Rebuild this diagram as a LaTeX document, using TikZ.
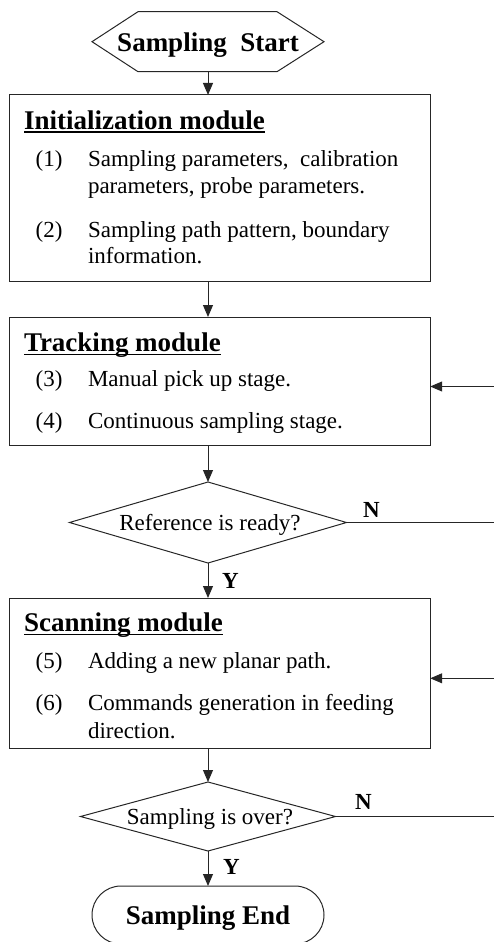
\documentclass[tikz,border=0pt]{standalone}
\usepackage{fontspec}
\setmainfont{Liberation Serif}
\usetikzlibrary{arrows.meta,shapes.geometric,calc}
\definecolor{ln}{HTML}{262626}
\begin{document}
\begin{tikzpicture}[x=1pt,y=-1pt,
  every node/.style={inner sep=0pt,outer sep=0pt},
  box/.style={draw=ln,line width=1pt,rectangle,minimum width=421pt},
  ttl/.style={anchor=base west,font=\fontsize{27}{32}\selectfont\bfseries},
  num/.style={anchor=base west,font=\fontsize{23}{27}\selectfont},
  txt/.style={anchor=base west,font=\fontsize{23}{27}\selectfont},
  lbl/.style={anchor=base west,font=\fontsize{23}{27}\selectfont\bfseries},
  dec/.style={draw=ln,line width=1pt,diamond},
  conn/.style={draw=ln,line width=1pt},
  arr/.style={conn,-{Triangle[length=12pt,width=10pt]}},
  uline/.style={draw=black,line width=1.2pt}]
\useasboundingbox (0,0) rectangle (494,942);

% start hexagon
\node[minimum width=232pt,minimum height=60pt] (start) at (208,41.7) {};
\draw[conn] (start.west) -- ($(start.north west)+(46,0)$) -- ($(start.north east)+(-47,0)$)
  -- (start.east) -- ($(start.south east)+(-47,0)$) -- ($(start.south west)+(46,0)$) -- cycle;
\node[anchor=base,font=\fontsize{27}{32}\selectfont\bfseries] (starttxt) at (208,51.7) {Sampling\ \ Start};

% initialization box
\node[box,minimum height=186.7pt] (init) at (219.7,188.3) {};
\node[ttl] (t1) at (24,129) {Initialization module};
\draw[uline] ([yshift=-3pt]t1.base west) -- ([yshift=-3pt]t1.base east);
\node[num] (n1) at (35.7,166) {(1)};
\node[txt] (a1) at (88,166) {Sampling parameters,\ \ calibration};
\node[txt] (a2) at (88,193) {parameters, probe parameters.};
\node[num] (n2) at (35.7,237) {(2)};
\node[txt] (b1) at (88,237) {Sampling path pattern, boundary};
\node[txt] (b2) at (88,263.5) {information.};

% tracking box
\node[box,minimum height=128pt] (track) at (219.7,381) {};
\node[ttl] (t2) at (24,351.7) {Tracking module};
\draw[uline] ([yshift=-3pt]t2.base west) -- ([yshift=-3pt]t2.base east);
\node[num] (n3) at (35.7,386.7) {(3)};
\node[txt] (c1) at (88,386.7) {Manual pick up stage.};
\node[num] (n4) at (35.7,428.3) {(4)};
\node[txt] (d1t) at (88,428.3) {Continuous sampling stage.};

% decision 1
\node[dec,shape aspect=3.4,minimum width=277pt,minimum height=81pt] (dec1) at (208,522.5) {};
\node[anchor=base,font=\fontsize{23}{27}\selectfont] (dec1t) at (210,530.7) {Reference is ready?};

% scanning box
\node[box,minimum height=150pt] (scan) at (219.7,673) {};
\node[ttl] (t3) at (24,631.7) {Scanning module};
\draw[uline] ([yshift=-3pt]t3.base west) -- ([yshift=-3pt]t3.base east);
\node[num] (n5) at (35.7,668.3) {(5)};
\node[txt] (e1) at (88,668.3) {Adding a new planar path.};
\node[num] (n6) at (35.7,710) {(6)};
\node[txt] (f1) at (88,710) {Commands generation in feeding};
\node[txt] (f2) at (88,738.3) {direction.};

% decision 2
\node[dec,shape aspect=3.7,minimum width=255pt,minimum height=69pt] (dec2) at (208,816.5) {};
\node[anchor=base,font=\fontsize{23}{27}\selectfont] (dec2t) at (210,824) {Sampling is over?};

% end terminal
\node[draw=ln,line width=1pt,rectangle,rounded corners=29pt,minimum width=232pt,minimum height=58pt] (endn) at (208,915) {};
\node[anchor=base,font=\fontsize{27}{32}\selectfont\bfseries] (endt) at (208,924) {Sampling End};

% free ends on the right edge
\coordinate (fbin1) at (494,386.5);
\coordinate (nout1) at (494,522.5);
\coordinate (fbin2) at (494,678.3);
\coordinate (nout2) at (494,816.5);

% connectors (vertical spine at x of start)
\draw[arr] (start.south) -- (start.south |- init.north);
\draw[arr] (init.south -| start.south) -- (track.north -| start.south);
\draw[arr] (track.south -| dec1.north) -- (dec1.north);
\draw[arr] (dec1.south) -- (scan.north -| dec1.south);
\draw[arr] (scan.south -| dec2.north) -- (dec2.north);
\draw[arr] (dec2.south) -- (endn.north);
\draw[conn] (dec1.east) -- (nout1);
\draw[conn] (dec2.east) -- (nout2);
\draw[arr] (fbin1) -- (fbin1 -| track.east);
\draw[arr] (fbin2) -- (fbin2 -| scan.east);

% labels
\node[lbl] (y1) at (222,588) {Y};
\node[lbl] (nn1) at (363,517) {N};
\node[lbl] (y2) at (223,874) {Y};
\node[lbl] (nn2) at (355,809) {N};
\end{tikzpicture}
\end{document}
